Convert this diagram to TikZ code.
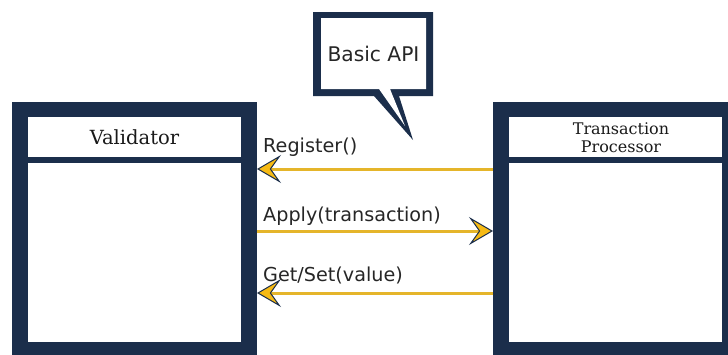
\documentclass[tikz,border=0pt]{standalone}
\usepackage{fontspec}
\usetikzlibrary{arrows.meta}
\newfontfamily\titlefam{DejaVu Serif}
\newfontfamily\labelfam{DejaVu Sans}
\definecolor{navy}{HTML}{1B2E4B}
\definecolor{gold}{HTML}{E5B52A}
\definecolor{goldfill}{HTML}{F6BA14}
\begin{document}
\begin{tikzpicture}[x=1pt,y=-1pt,
  frame/.style={fill=navy,inner sep=0pt,anchor=north west},
  pane/.style={fill=white,inner sep=0pt,anchor=north west},
  boxtitle/.style={font=\titlefam\fontsize{19.5}{23}\selectfont,inner sep=0pt,anchor=base,text=black!90},
  smalltitle/.style={font=\titlefam\fontsize{16}{18}\selectfont,inner sep=0pt,anchor=base,text=black!90},
  msg/.style={font=\labelfam\fontsize{19.2}{23}\selectfont,inner sep=0pt,anchor=base west,text=black!85},
  call/.style={draw=gold,line width=3pt,-{Stealth[length=24pt,width=28pt,inset=10pt,fill=goldfill,color=navy,line width=1pt]}}]
\path[use as bounding box] (0,0) rectangle (728,354);
\clip (0,0) rectangle (728,354);
% Validator box
\node[frame,minimum width=245pt,minimum height=258pt] (val) at (12,102) {};
\node[pane,minimum width=213pt,minimum height=40pt] (valhead) at (28,117) {};
\node[pane,minimum width=213pt,minimum height=179pt] (valbody) at (28,163) {};
\node[boxtitle] (valtitle) at (134.5,144) {Validator};
% Transaction Processor box
\node[frame,minimum width=247pt,minimum height=258pt] (tp) at (493,102) {};
\node[pane,minimum width=213pt,minimum height=40pt] (tphead) at (509,117) {};
\node[pane,minimum width=213pt,minimum height=179pt] (tpbody) at (509,163) {};
\node[smalltitle] (tptitle1) at (621,134) {Transaction};
\node[smalltitle] (tptitle2) at (621,152) {Processor};
% Speech bubble
\fill[navy] (313,12) -- (433,12) -- (433,96) -- (399,96) -- (413,140) -- (374,96) -- (313,96) -- cycle;
\fill[white] (321,18) -- (426,18) -- (426,89) -- (390,89) -- (405,126) -- (379,89) -- (321,89) -- cycle;
\node[font=\labelfam\fontsize{20.2}{24}\selectfont,inner sep=0pt,anchor=base,text=black!85] (api) at (373.5,61) {Basic API};
% Connector end points on the box edges
\coordinate (tpR) at (493,169);
\coordinate (valR) at (257,169);
\coordinate (valA) at (257,231);
\coordinate (tpA) at (493,231);
\coordinate (tpG) at (493,293);
\coordinate (valG) at (257,293);
% Calls
\draw[call] (tpR) -- (valR);
\draw[call] (valA) -- (tpA);
\draw[call] (tpG) -- (valG);
% Labels
\node[msg] (lreg) at (263,152) {Register()};
\node[msg] (lapply) at (263,221) {Apply(transaction)};
\node[msg] (lget) at (263,281) {Get/Set(value)};
\end{tikzpicture}
\end{document}
